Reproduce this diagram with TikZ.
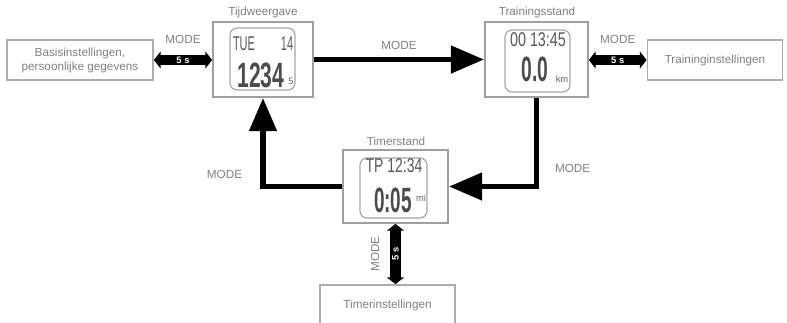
\documentclass[tikz,border=0pt]{standalone}
\usepackage{fontspec}
\setmainfont{Liberation Sans}
\usetikzlibrary{
    positioning,
    arrows.meta
}
\tikzset{
    >=Triangle,
    scherm/.style={
        draw=gray!75,
        line width=1.5pt,
        minimum width=3cm,
        minimum height=2.25cm
    },
    instelling/.style={
        draw=gray!65,
        line width=1.5pt,
        text=gray,
        align=center,
        minimum height=1.2cm
    },
    lcd/.style={
        draw=gray!70,
        line width=1pt,
        rounded corners=6pt,
        minimum width=1.95cm,
        minimum height=1.86cm
    },
    lcdboven/.style={
        text=black!65,
        font=\fontsize{17}{17}\selectfont,
        inner sep=0pt
    },
    lcdgroot/.style={
        text=black!70,
        font=\fontsize{30}{30}\selectfont\bfseries,
        inner sep=0pt
    },
    lcdklein/.style={
        text=black!60,
        font=\fontsize{8}{8}\selectfont,
        inner sep=0pt
    },
    titel/.style={text=gray},
    modus/.style={text=gray},
    stap/.style={
        line width=5pt,
        -{Triangle[length=1cm,width=0.8cm]}
    },
    houd/.style={
        line width=9pt,
        {Triangle[length=0.2cm,width=0.5cm]}-{Triangle[length=0.2cm,width=0.5cm]}
    },
    tijd5s/.style={
        text=white,
        font=\footnotesize\bfseries,
        inner sep=0pt
    }
}

\begin{document}
\begin{tikzpicture}[
    x=0.03cm,
    y=-0.03cm
]
    \useasboundingbox (0,0) rectangle (787,322);

    % Schermen
    \node[scherm]                       (tijd)     at (263,59.5)  {};
    \node[scherm, minimum width=3.09cm] (training) at (536.5,59.5) {};
    \node[scherm, minimum width=3.15cm,
          minimum height=2.19cm]        (timer)    at (395.5,186.5) {};

    \node[titel] (tijdtitel)     at (263,12)  {Tijdweergave};
    \node[titel] (trainingtitel) at (537,12)  {Trainingsstand};
    \node[titel] (timertitel)    at (396,141) {Timerstand};

    % Displays
    \node[lcd]                      (tijdlcd)     at (262.5,59) {};
    \node[lcd]                      (traininglcd) at (537.5,61) {};
    \node[lcd, minimum width=2.01cm,
          minimum height=1.8cm]     (timerlcd)    at (393.5,188) {};

    \node[lcdboven, xscale=0.55] (tijddag)    at (244,44)  {TUE};
    \node[lcdboven, xscale=0.55] (tijddatum)  at (287,44)  {14};
    \node[lcdgroot, xscale=0.6]  (tijdcijfer) at (261,75)  {1234};
    \node[lcdklein]              (tijdsec)    at (291,81)  {5};

    \node[lcdboven, xscale=0.72] (trainingboven) at (538,40) {00 13:45};
    \node[lcdgroot, xscale=0.55] (trainingcijfer) at (535,69) {0.0};
    \node[lcdklein]              (trainingeenheid) at (562,79) {km};

    \node[lcdboven, xscale=0.7]  (timerboven) at (394,166) {TP 12:34};
    \node[lcdgroot, xscale=0.54] (timercijfer) at (393,200) {0:05};
    \node[lcdklein]              (timereenheid) at (421,198) {mi};

    % Instellingen
    \node[instelling, minimum width=4.38cm] (basis)     at (80,60)
        {Basisinstellingen,\\persoonlijke gegevens};
    \node[instelling, minimum width=4.05cm] (traininst) at (715,60)
        {Traininginstellingen};
    \node[instelling, minimum width=4.05cm, minimum height=1.5cm,
          text depth=0.35cm]                (timerinst) at (387.5,310)
        {Timerinstellingen};

    % Overgangen
    \draw[stap] (tijd.east) -- (training.west)
        node[midway, above=3pt, modus] {MODE};

    \draw[stap] (training.south) |- (timer.east)
        node[pos=0.4, right=10pt, modus] {MODE};

    \draw[stap] (timer.west) -| (tijd.south)
        node[pos=0.57, left=12pt, modus] {MODE};

    % 5 s ingedrukt houden
    \draw[houd] (basis.east) -- (basis.east -| tijd.west)
        node[midway, tijd5s] {5 s}
        node[midway, above=6pt, modus] {MODE};

    \draw[houd] (training.east |- traininst.west) -- (traininst.west)
        node[midway, tijd5s] {5 s}
        node[midway, above=6pt, modus] {MODE};

    \draw[houd] (timer.south) -- (timer.south |- timerinst.north)
        node[midway, tijd5s, rotate=90] {5 s}
        node[midway, rotate=90, anchor=south, yshift=6pt, modus] {MODE};

\end{tikzpicture}
\end{document}
